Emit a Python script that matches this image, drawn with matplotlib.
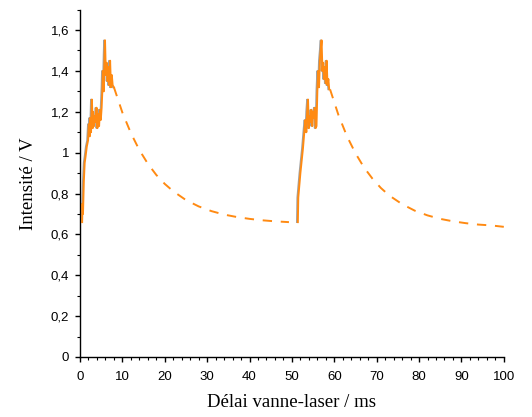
import matplotlib
matplotlib.use("Agg")
import matplotlib.pyplot as plt
import matplotlib.transforms as mtransforms
from matplotlib.ticker import MultipleLocator, FuncFormatter

# Pulse 1 (measured, solid)
x1_solid = [0.5, 0.6, 0.7, 0.9, 1.1, 1.3, 1.6, 1.9, 2.1, 2.3, 2.4, 2.6, 2.8, 3.0, 3.1,
            3.3, 3.5, 3.7, 3.9, 4.1, 4.3, 4.5, 4.7, 4.9, 5.1, 5.3, 5.4, 5.6, 5.8, 5.9,
            6.1, 6.3, 6.5, 6.7, 6.9, 7.1, 7.3, 7.5, 7.7, 8.0]
y1_solid = [0.66, 0.75, 0.70, 0.86, 0.95, 0.98, 1.03, 1.06, 1.14, 1.08, 1.17, 1.10, 1.26, 1.12, 1.20,
            1.13, 1.18, 1.15, 1.22, 1.12, 1.19, 1.13, 1.21, 1.16, 1.22, 1.32, 1.40, 1.30, 1.48, 1.55,
            1.38, 1.44, 1.35, 1.42, 1.33, 1.45, 1.32, 1.38, 1.33, 1.32]
# Pulse 1 decay (dashed)
x1_decay = [8, 10, 12, 14, 16, 18, 20, 22, 25, 28, 31, 34, 37, 40, 43, 46, 49.3]
y1_decay = [1.32, 1.196, 1.096, 1.013, 0.946, 0.891, 0.847, 0.811, 0.768, 0.737, 0.714,
            0.697, 0.685, 0.676, 0.669, 0.664, 0.660]

# Pulse 2 (measured, solid)
x2_solid = [51.4, 51.5, 52.0, 52.3, 52.6, 53.0, 53.2, 53.4, 53.6, 53.8, 54.0, 54.2, 54.4, 54.6,
            54.8, 55.0, 55.2, 55.4, 55.6, 55.8, 56.0, 56.2, 56.4, 56.6, 56.8, 57.0, 57.2, 57.4,
            57.6, 57.8, 58.0, 58.2, 58.4, 58.6, 58.8]
y2_solid = [0.66, 0.78, 0.90, 0.96, 1.02, 1.12, 1.16, 1.10, 1.20, 1.26, 1.12, 1.18, 1.15, 1.21,
            1.13, 1.20, 1.17, 1.22, 1.12, 1.13, 1.30, 1.40, 1.32, 1.45, 1.50, 1.55, 1.40, 1.44,
            1.36, 1.42, 1.34, 1.45, 1.33, 1.36, 1.31]
# Pulse 2 decay (dashed)
x2_decay = [59, 61, 63, 65, 67, 69, 71, 73, 76, 79, 82, 85, 88, 91, 94, 97, 100]
y2_decay = [1.31, 1.183, 1.080, 0.997, 0.928, 0.873, 0.827, 0.790, 0.748, 0.716, 0.693,
            0.676, 0.664, 0.655, 0.648, 0.644, 0.637]

ORANGE = "#FF8A12"

fig = plt.figure(figsize=(5.32, 4.17), dpi=100)
ax = fig.add_axes([0.1504, 0.1439, 0.7966, 0.833])

shadow = mtransforms.offset_copy(ax.transData, fig=fig, x=-1.0, y=0.0, units="dots")
for xs, ys in [(x1_solid, y1_solid), (x2_solid, y2_solid)]:
    ax.plot(xs, ys, color="#a0a0a0", lw=1.2, transform=shadow, zorder=2)
    ax.plot(xs, ys, color=ORANGE, lw=1.4, zorder=3)
for xs, ys in [(x1_decay, y1_decay), (x2_decay, y2_decay)]:
    ax.plot(xs, ys, color=ORANGE, lw=1.4, dashes=(4.8, 4.5), zorder=3)

ax.set_xlim(0, 100)
ax.set_ylim(0, 1.7)
for s in ["top", "right"]:
    ax.spines[s].set_visible(False)
for s in ["left", "bottom"]:
    ax.spines[s].set_linewidth(1.0)

ax.xaxis.set_major_locator(MultipleLocator(10))
ax.xaxis.set_minor_locator(MultipleLocator(2))
ax.yaxis.set_major_locator(MultipleLocator(0.2))
ax.yaxis.set_minor_locator(MultipleLocator(0.1))

def fmt(v, pos):
    v = round(v, 6)
    if abs(v - round(v)) < 1e-9:
        return str(int(round(v)))
    return ("%g" % v).replace(".", ",")

ax.xaxis.set_major_formatter(FuncFormatter(fmt))
ax.yaxis.set_major_formatter(FuncFormatter(fmt))
ax.tick_params(which="major", direction="out", length=3.8, width=1.0, labelsize=9.5)
ax.tick_params(which="minor", direction="out", length=2.0, width=0.8)
ax.tick_params(axis="x", which="major", pad=6)
ax.tick_params(axis="y", which="major", pad=4)
for lab in ax.get_xticklabels() + ax.get_yticklabels():
    lab.set_fontfamily("Liberation Sans")

ax.set_xlabel("Délai vanne-laser / ms", fontsize=13.5, family="Liberation Serif", labelpad=8)
ax.set_ylabel("Intensité / V", fontsize=13.5, family="Liberation Serif", labelpad=10)

fig.savefig("out.png", dpi=100)
